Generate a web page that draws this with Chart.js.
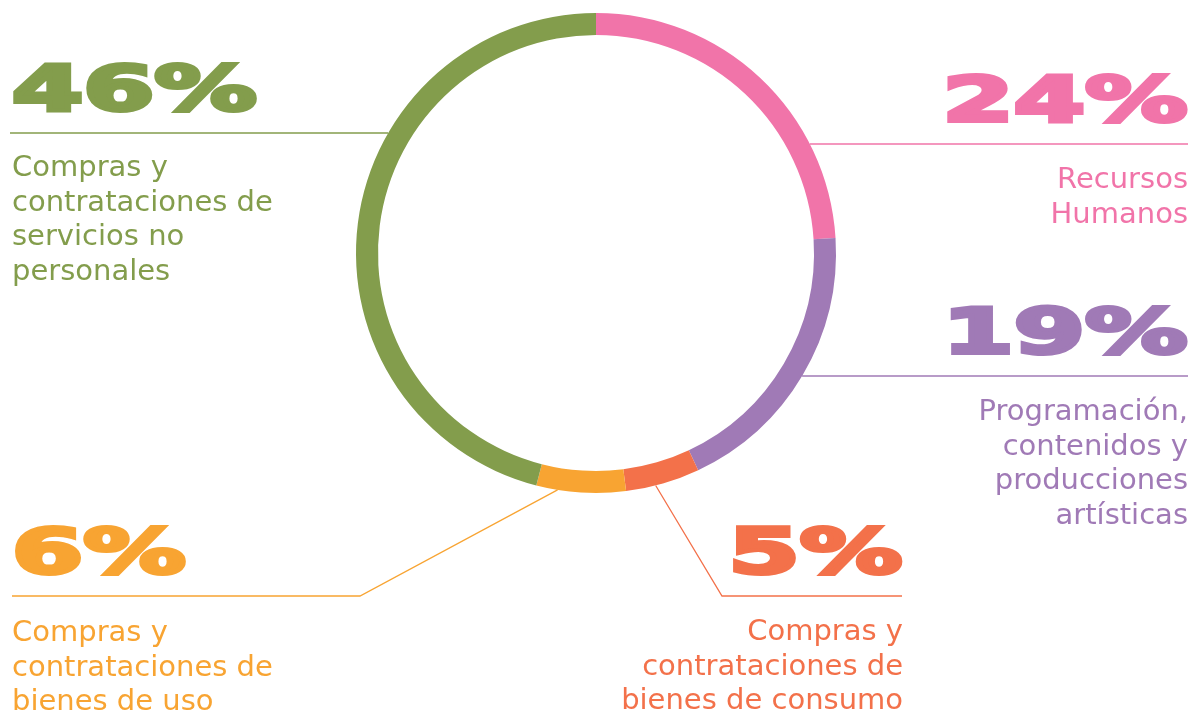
<!DOCTYPE html>
<html lang="es">
<head>
<meta charset="utf-8">
<script src="https://cdn.jsdelivr.net/npm/chart.js@4.4.0/dist/chart.umd.min.js"></script>
<style>
  html, body { margin: 0; padding: 0; background: #fff; }
  #wrap { position: relative; width: 1194px; height: 711px; overflow: hidden; }
  #wrap canvas { position: absolute; left: 0; top: 0; }
  .pct {
    position: absolute; white-space: nowrap;
    font-family: "DejaVu Sans", sans-serif; font-weight: bold;
    font-size: 62px; line-height: 62px;
    -webkit-text-stroke: 4px currentColor;
    transform: scaleX(1.65); transform-origin: left top;
  }
  .pct.r { transform-origin: right top; }
  .lbl {
    position: absolute; white-space: nowrap;
    font-family: "DejaVu Sans", sans-serif;
    font-size: 29px; line-height: 34.7px;
  }
  .lbl.r { text-align: right; }
</style>
</head>
<body>
<div id="wrap">
  <canvas id="donut" width="1194" height="711"></canvas>
</div>
<script>
// Datos (sentido horario desde las 12)
const categorias = [
  'Recursos Humanos',
  'Programación, contenidos y producciones artísticas',
  'Compras y contrataciones de bienes de consumo',
  'Compras y contrataciones de bienes de uso',
  'Compras y contrataciones de servicios no personales'
];
const porcentajes = [24, 19, 5, 6, 46];
const textosEtiqueta = [
  ['Recursos', 'Humanos'],
  ['Programación,', 'contenidos y', 'producciones', 'artísticas'],
  ['Compras y', 'contrataciones de', 'bienes de consumo'],
  ['Compras y', 'contrataciones de', 'bienes de uso'],
  ['Compras y', 'contrataciones de', 'servicios no', 'personales']
];

const COLORES = ['#F174A9', '#A07AB6', '#F3714A', '#F8A432', '#839D4C'];

// Disposición de cada etiqueta (posición del % y del texto, línea guía)
const LAYOUT = [
  { side: 'r', edge: 1187, pctTop: 69,  txtTop: 161, line: { y: 144, from: 'ring', to: 1188 } },
  { side: 'r', edge: 1187, pctTop: 301, txtTop: 393, line: { y: 376, from: 'ring', to: 1188 } },
  { side: 'r', edge: 902,  pctTop: 521, txtTop: 613, line: { y: 596, x1: 902, x2: 722, frac: 0.6 } },
  { side: 'l', edge: 10,   pctTop: 521, txtTop: 614, line: { y: 596, x1: 12, x2: 360, frac: 0.76 } },
  { side: 'l', edge: 10,   pctTop: 58,  txtTop: 149, line: { y: 133, from: 10, to: 'ring' } }
];

const wrap = document.getElementById('wrap');
porcentajes.forEach((v, i) => {
  const L = LAYOUT[i];
  const p = document.createElement('div');
  p.className = 'pct' + (L.side === 'r' ? ' r' : '');
  p.textContent = v + '%';
  p.style.color = COLORES[i];
  p.style.top = L.pctTop + 'px';
  const t = document.createElement('div');
  t.className = 'lbl' + (L.side === 'r' ? ' r' : '');
  t.innerHTML = textosEtiqueta[i].join('<br>');
  t.style.color = COLORES[i];
  t.style.top = L.txtTop + 'px';
  if (L.side === 'r') {
    p.style.right = (1194 - L.edge) + 'px';
    t.style.right = (1194 - L.edge - 1) + 'px';
  } else {
    p.style.left = (L.edge + 2) + 'px';
    t.style.left = (L.edge + 2) + 'px';
  }
  wrap.appendChild(p);
  wrap.appendChild(t);
});

// Líneas guía desde las etiquetas hasta el anillo
const leaderLines = {
  id: 'leaderLines',
  afterDatasetsDraw(chart) {
    const meta = chart.getDatasetMeta(0);
    const ctx = chart.ctx;
    ctx.save();
    ctx.lineWidth = 1.3;
    meta.data.forEach((arc, i) => {
      const L = LAYOUT[i].line;
      const R = arc.outerRadius;
      ctx.strokeStyle = COLORES[i];
      ctx.beginPath();
      if (L.frac !== undefined) {
        const a = arc.startAngle + L.frac * (arc.endAngle - arc.startAngle);
        ctx.moveTo(L.x1, L.y);
        ctx.lineTo(L.x2, L.y);
        ctx.lineTo(arc.x + Math.cos(a) * R, arc.y + Math.sin(a) * R);
      } else {
        const dx = Math.sqrt(R * R - (L.y - arc.y) * (L.y - arc.y));
        const a = L.from === 'ring' ? arc.x + dx : L.from;
        const b = L.to === 'ring' ? arc.x - dx : L.to;
        ctx.moveTo(a, L.y);
        ctx.lineTo(b, L.y);
      }
      ctx.stroke();
    });
    ctx.restore();
  }
};

new Chart(document.getElementById('donut'), {
  type: 'doughnut',
  data: {
    labels: categorias,
    datasets: [{
      data: porcentajes,
      backgroundColor: COLORES,
      borderWidth: 0,
      hoverOffset: 0,
      offset: 0
    }]
  },
  options: {
    responsive: false,
    animation: false,
    events: [],
    radius: 240,
    cutout: 218,
    layout: { padding: { top: 13, bottom: 218, left: 0, right: 2 } },
    plugins: { legend: { display: false }, tooltip: { enabled: false } }
  },
  plugins: [leaderLines]
});
</script>
</body>
</html>
